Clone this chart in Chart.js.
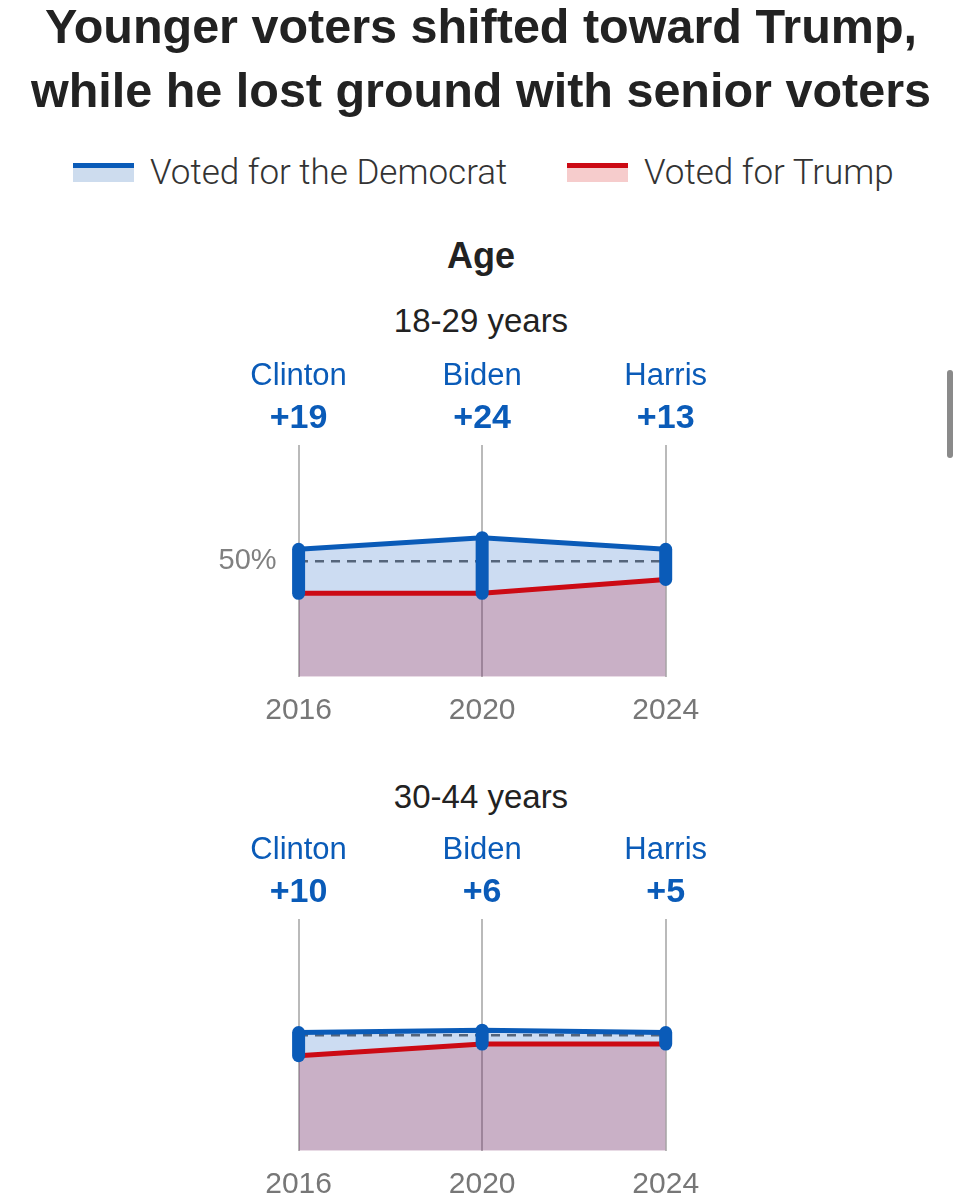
<!DOCTYPE html>
<html>
<head>
<meta charset="utf-8">
<script src="https://cdn.jsdelivr.net/npm/chart.js@4"></script>
<style>
  html, body { margin: 0; padding: 0; background: #fff; overflow: hidden; }
  body { width: 962px; height: 1200px; position: relative; font-family: "Liberation Sans", Arial, sans-serif; }
  .t { position: absolute; left: 0; width: 962px; text-align: center; color: #222; white-space: nowrap; }
  #title { top: -6px; font-size: 48.5px; font-weight: 700; line-height: 64px; }
  .legend { position: absolute; top: 150px; height: 44px; display: flex; align-items: center; font-family: Roboto, sans-serif; font-size: 35px; font-weight: 300; color: #333; }
  .swatch { width: 61px; height: 19px; margin-right: 16px; box-sizing: border-box; }
  .sw-dem { background: #cddcee; border-top: 5px solid #0a5bb8; }
  .sw-rep { background: #f6cccc; border-top: 5px solid #cc0a14; }
  #age { top: 233.5px; font-size: 36px; font-weight: 700; line-height: 44px; }
  .sub { font-size: 33px; line-height: 40px; }
  canvas { position: absolute; left: 0; }
  #scroll { position: absolute; left: 947px; top: 370px; width: 6px; height: 88px; border-radius: 3px; background: #8a8a8a; }
</style>
</head>
<body>
<div class="t" id="title">Younger voters shifted toward Trump,<br>while he lost ground with senior voters</div>
<div class="legend" style="left:73px"><div class="swatch sw-dem"></div>Voted for the Democrat</div>
<div class="legend" style="left:567px"><div class="swatch sw-rep"></div>Voted for Trump</div>
<div class="t" id="age">Age</div>
<div class="t sub" style="top:300.6px">18-29 years</div>
<canvas id="c1829" width="962" height="400" style="top:340px"></canvas>
<div class="t sub" style="top:776.6px">30-44 years</div>
<canvas id="c3044" width="962" height="400" style="top:814px"></canvas>
<div id="scroll"></div>
<script>
// Exit poll shares (%)
const years = ['2016', '2020', '2024'];
const candidates = ['Clinton', 'Biden', 'Harris'];

const dem1829 = [55, 60, 55];
const trump1829 = [36, 36, 42];
const margins1829 = ['+19', '+24', '+13'];

const dem3044 = [51, 52, 51];
const trump3044 = [41, 46, 46];
const margins3044 = ['+10', '+6', '+5'];

const yTicks = [50];

const BLUE = '#0a5bb8';
const RED = '#cc0a14';
const FONT = '"Liberation Sans", Arial, sans-serif';

// thick rounded bar joining the two lines at every year
const marginBars = {
    id: 'marginBars',
    afterDatasetsDraw(chart) {
        const demPts = chart.getDatasetMeta(0).data;
        const repPts = chart.getDatasetMeta(1).data;
        const ctx = chart.ctx;
        ctx.save();
        ctx.strokeStyle = BLUE;
        ctx.lineWidth = 13;
        ctx.lineCap = 'round';
        demPts.forEach((p, i) => {
            ctx.beginPath();
            ctx.moveTo(p.x, p.y);
            ctx.lineTo(repPts[i].x, repPts[i].y);
            ctx.stroke();
        });
        ctx.restore();
    }
};

// candidate name + margin above each year
const candidateLabels = {
    id: 'candidateLabels',
    afterDraw(chart, args, opts) {
        const ctx = chart.ctx;
        const top = chart.chartArea.top;
        const xs = chart.scales.x;
        ctx.save();
        ctx.fillStyle = BLUE;
        ctx.textAlign = 'center';
        ctx.textBaseline = 'alphabetic';
        candidates.forEach((name, i) => {
            const x = xs.getPixelForValue(i);
            ctx.font = '400 31px ' + FONT;
            ctx.fillText(name, x, top - 60);
            ctx.font = '700 34px ' + FONT;
            ctx.fillText(opts.margins[i], x, top - 17);
        });
        ctx.restore();
    }
};

function makeChart(id, dem, trump, margins, showPct) {
    new Chart(document.getElementById(id), {
        type: 'line',
        data: {
            labels: years,
            datasets: [{
                label: 'Voted for the Democrat',
                data: dem,
                borderColor: BLUE,
                borderWidth: 5,
                backgroundColor: 'rgba(0, 80, 190, 0.2)',
                fill: 'origin',
                pointRadius: 0,
                tension: 0
            }, {
                label: 'Voted for Trump',
                data: trump,
                borderColor: RED,
                borderWidth: 5,
                backgroundColor: 'rgba(235, 0, 0, 0.22)',
                fill: 'origin',
                pointRadius: 0,
                tension: 0
            }]
        },
        options: {
            responsive: false,
            animation: false,
            layout: {
                padding: { top: 105, left: 198.6, right: 296.3, bottom: 0 }
            },
            plugins: {
                legend: { display: false },
                tooltip: { enabled: false },
                filler: { drawTime: 'beforeDatasetsDraw' },
                candidateLabels: { margins: margins }
            },
            scales: {
                x: {
                    offset: false,
                    grid: { color: '#bababa', lineWidth: 2, drawTicks: false, offset: false },
                    border: { display: false },
                    ticks: {
                        color: '#777',
                        padding: 16,
                        font: { family: FONT, size: 30 }
                    },
                    afterFit: s => { s.height = 63.3; }
                },
                y: {
                    min: 0,
                    max: 100,
                    afterBuildTicks: s => { s.ticks = yTicks.map(v => ({ value: v })); },
                    grid: { color: '#6b6b6b', lineWidth: 2.5, drawTicks: false },
                    border: { display: false, dash: [9, 7] },
                    ticks: {
                        display: showPct,
                        color: '#808080',
                        padding: 22,
                        font: { family: FONT, size: 29 },
                        callback: v => v + '%'
                    },
                    afterFit: s => { s.width = 100; }
                }
            }
        },
        plugins: [marginBars, candidateLabels]
    });
}

makeChart('c1829', dem1829, trump1829, margins1829, true);
makeChart('c3044', dem3044, trump3044, margins3044, false);
</script>
</body>
</html>
